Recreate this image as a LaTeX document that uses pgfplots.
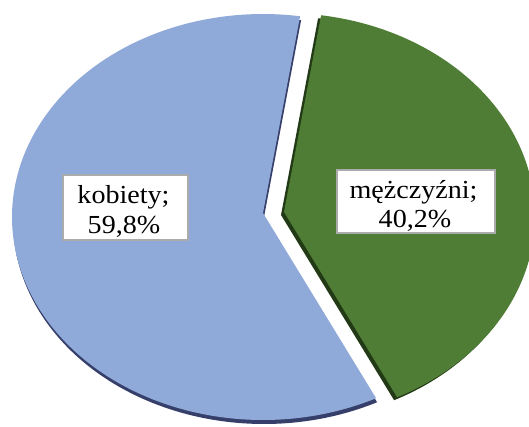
\documentclass[border=0pt]{standalone}
\usepackage{pgfplots}
\pgfplotsset{compat=1.18}
\usepackage{fontspec}
\setmainfont{Liberation Serif}
\usepackage{graphicx}
\definecolor{blueC}{HTML}{8FAAD8}
\definecolor{blueS}{HTML}{363F6A}
\definecolor{greenC}{HTML}{4F7D35}
\definecolor{greenS}{HTML}{223A16}
\definecolor{boxG}{HTML}{ABABAB}
% data (percent)
\def\kobiety{59.8}
\def\mezczyzni{40.2}
\def\startang{81.5}
\pgfmathsetmacro{\endG}{\startang-3.6*\mezczyzni}
\pgfmathsetmacro{\endB}{\startang+3.6*\kobiety}
\begin{document}
\begin{tikzpicture}
\begin{axis}[width=529pt,height=426pt,scale only axis,
  xmin=0,xmax=529,ymin=0,ymax=426,y dir=reverse,
  hide axis,clip=true,clip mode=global]
\path (rel axis cs:0,0) rectangle (rel axis cs:1,1);
% shadows
\addplot[fill=blueS,draw=none,domain=\startang:\endB,samples=180]
  ({264+251*cos(x)},{221-203*sin(x)}) -- (axis cs:264,217) -- cycle;
\addplot[fill=greenS,draw=none,domain=\endG:\startang,samples=150]
  ({281+251*cos(x)},{219-203*sin(x)}) -- (axis cs:281,215) -- cycle;
% slices
\addplot[fill=blueC,draw=none,domain=\startang:\endB,samples=180]
  ({263+251*cos(x)},{217-203*sin(x)}) -- (axis cs:263,213) -- cycle;
\addplot[fill=greenC,draw=none,domain=\endG:\startang,samples=150]
  ({284+251*cos(x)},{216-203*sin(x)}) -- (axis cs:284,212) -- cycle;
% labels
\fill[white,draw=boxG,line width=2pt] (axis cs:63,175) rectangle (axis cs:188,240);
\fill[white,draw=boxG,line width=2pt] (axis cs:337,170) rectangle (axis cs:495,233);
\node[anchor=base,inner sep=0pt,font=\fontsize{26}{30}\selectfont] at (axis cs:123.5,203) {\scalebox{1.08}[1]{kobiety;}};
\node[anchor=base,inner sep=0pt,font=\fontsize{26}{30}\selectfont] at (axis cs:124,233) {\scalebox{1.08}[1]{59,8\%}};
\node[anchor=base,inner sep=0pt,font=\fontsize{26}{30}\selectfont] at (axis cs:413.5,198) {\scalebox{1.08}[1]{mężczyźni;}};
\node[anchor=base,inner sep=0pt,font=\fontsize{26}{30}\selectfont] at (axis cs:415,227) {\scalebox{1.08}[1]{40,2\%}};
\end{axis}
\end{tikzpicture}
\end{document}
